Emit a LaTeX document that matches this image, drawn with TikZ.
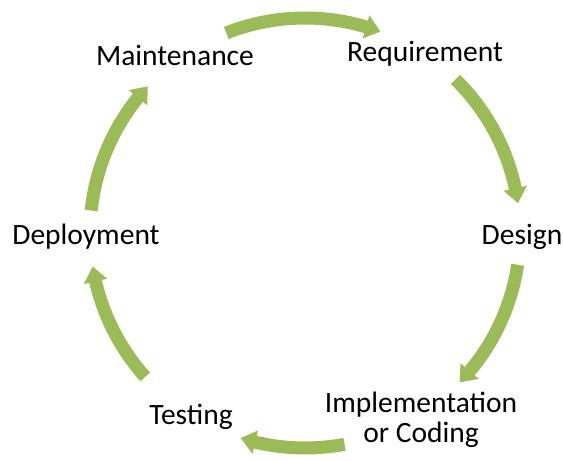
\documentclass[tikz,border=0pt]{standalone}
\usepackage{fontspec}
\setmainfont{Carlito}
\usetikzlibrary{calc}
\definecolor{arrowgreen}{HTML}{9BBB59}
\tikzset{
  label/.style={anchor=base, inner sep=0pt, font=\fontsize{29.5}{31}\selectfont, text=black},
}
\newcommand\blockarc[2]{%
  % #1 tail angle, #2 tip angle (clockwise, #1 > #2)
  \pgfmathsetmacro\headbase{#2+4}
  \draw[arrowgreen, line width=13pt, line cap=butt]
    ($(C)+(#1:215)$) arc[start angle=#1, end angle=\headbase-0.3, radius=215];
  \fill[arrowgreen] ($(C)+(\headbase:227)$) -- ($(C)+(#2:215)$) -- ($(C)+(\headbase:203)$) -- cycle;
}
\begin{document}
\begin{tikzpicture}[x=1pt,y=1pt]
\useasboundingbox (0,0) rectangle (563,461);
\coordinate (C) at (305,228);
% labels (pixel baselines converted: y = 461 - baseline)
\node[label] (maint) at (175,395) {Maintenance};
\node[label] (req)   at (425,399) {Requirement};
\node[label] (des)   at (522,216) {Design};
\node[label] (impl)  at (421,48)  {Implementation};
\node[label] (cod)   at (421,18)  {or Coding};
\node[label] (test)  at (191,36)  {Testing};
\node[label] (dep)   at (86,216)  {Deployment};
% cycle arrows
\blockarc{111.5}{69.5}
\blockarc{45.6}{8}
\blockarc{-8.5}{-44}
\blockarc{-79.4}{-107.4}
\blockarc{-138}{-171}
\blockarc{174}{137}
\end{tikzpicture}
\end{document}
